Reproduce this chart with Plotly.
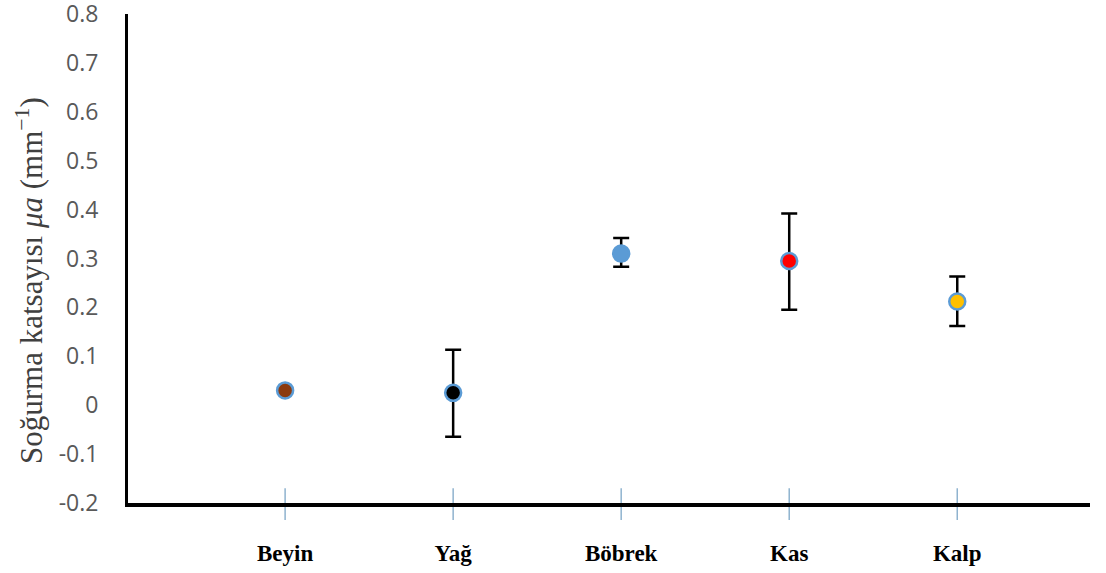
import plotly.graph_objects as go

categories = ["Beyin", "Yağ", "Böbrek", "Kas", "Kalp"]
values = [0.030, 0.025, 0.310, 0.295, 0.212]
err_plus = [0.0, 0.088, 0.032, 0.097, 0.051]
err_minus = [0.0, 0.090, 0.027, 0.100, 0.050]
fill_colors = ["#8B3A0F", "#000000", "#5B9BD5", "#FF0000", "#FFC000"]
y_ticks = [-0.2, -0.1, 0, 0.1, 0.2, 0.3, 0.4, 0.5, 0.6, 0.7, 0.8]
y_ticktext = ["-0.2", "-0.1", "0", "0.1", "0.2", "0.3", "0.4", "0.5", "0.6", "0.7", "0.8"]
y_title = "Soğurma katsayısı <i>μa</i> (mm<sup>−1</sup>)"

xs = list(range(len(categories)))

fig = go.Figure()
fig.add_trace(go.Scatter(
    x=xs, y=values, mode="markers",
    marker=dict(size=16, color=fill_colors, line=dict(color="#5B9BD5", width=2.5)),
    error_y=dict(type="data", symmetric=False, array=err_plus, arrayminus=err_minus,
                 color="black", thickness=2.5, width=8),
    showlegend=False,
))

shapes = []
for x in xs:
    shapes.append(dict(type="line", xref="x", yref="y domain", x0=x, x1=x, y0=-0.035, y1=0.03,
                       line=dict(color="#8FB3CF", width=1.5), layer="below"))

fig.add_annotation(text=y_title, xref="paper", yref="paper", x=0, y=0.454,
                   xanchor="center", yanchor="middle", xshift=-98, textangle=-90,
                   showarrow=False, font=dict(family="Liberation Serif", size=31, color="#404040"))

fig.update_layout(
    width=1106, height=573,
    margin=dict(l=128, r=16, t=14, b=70),
    paper_bgcolor="white", plot_bgcolor="white",
    shapes=shapes,
    xaxis=dict(range=[-0.935, 4.79], tickvals=xs, ticktext=categories, automargin=False,
               showgrid=False, zeroline=False, showline=True, linecolor="black", linewidth=4,
               ticks="", tickfont=dict(family="Liberation Serif", size=23, color="black", weight="bold"),
               ticklabelstandoff=26, ticklabeloverflow="allow"),
    yaxis=dict(range=[-0.2005, 0.8005], tickvals=y_ticks, ticktext=y_ticktext, automargin=False,
               showgrid=False, zeroline=False, showline=True, linecolor="black", linewidth=3,
               ticks="", tickfont=dict(family="Open Sans", size=23, color="#595959"),
               ticklabelstandoff=22, ticklabeloverflow="allow"),
)

fig.write_html("out.html", config={"displayModeBar": False},
               post_script="document.body.style.margin='0';document.body.style.overflow='hidden';")
